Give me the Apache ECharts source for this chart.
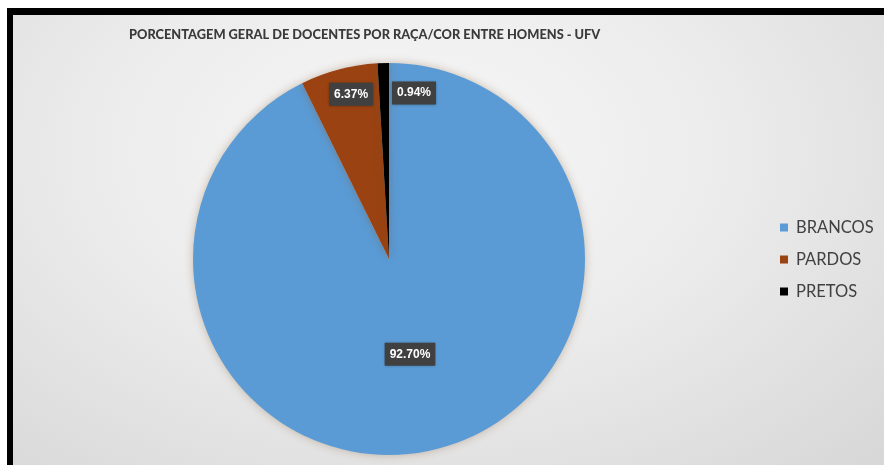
<!DOCTYPE html>
<html>
<head>
<meta charset="utf-8">
<script src="https://cdn.jsdelivr.net/npm/echarts@6/dist/echarts.min.js"></script>
<style>
  html, body { margin: 0; padding: 0; background: #ffffff; }
  #frame {
    position: absolute; left: 7px; top: 8px; width: 884px; height: 454px;
    border-top: 7px solid #000; border-left: 6px solid #000;
    border-bottom: 1px solid #8a8a8a;
    background: radial-gradient(ellipse at 45% 30%, #f7f7f7 0%, #ececec 45%, #d6d6d6 100%);
  }
  #chart { position: absolute; left: 0; top: 0; width: 884px; height: 465px; }
</style>
</head>
<body>
<div id="frame"></div>
<div id="chart"></div>
<script>
const titleText = 'PORCENTAGEM GERAL DE DOCENTES POR RAÇA/COR ENTRE HOMENS - UFV';
const categories = ['BRANCOS', 'PARDOS', 'PRETOS'];
const values = [92.70, 6.37, 0.94];
const colors = ['#5B9BD5', '#9A4212', '#000000'];
const labelOffsets = [[-2, -3], [-12, -67], [28, -65]];

const chart = echarts.init(document.getElementById('chart'), null, { renderer: 'canvas' });
chart.setOption({
  backgroundColor: 'transparent',
  animation: false,
  title: {
    text: titleText,
    left: 124, top: 23,
    textStyle: { fontFamily: 'Lato', fontSize: 12.8, fontWeight: 900, color: '#3a3a3a' }
  },
  legend: {
    orient: 'vertical',
    left: 775, top: 214,
    icon: 'rect', itemWidth: 8, itemHeight: 8, itemGap: 15,
    data: categories,
    textStyle: { fontFamily: 'Lato', fontSize: 16.5, color: '#404040', padding: [0, 0, 0, 3] }
  },
  series: [{
    type: 'pie',
    center: [389, 259],
    radius: 196,
    startAngle: 90,
    clockwise: true,
    silent: true,
    itemStyle: { shadowBlur: 8, shadowColor: 'rgba(120,80,40,0.35)' },
    label: {
      show: true,
      position: 'inside',
      formatter: p => p.value.toFixed(2) + '%',
      color: '#ffffff',
      fontFamily: 'Liberation Sans, Arial',
      fontWeight: 'bold',
      fontSize: 12,
      backgroundColor: '#404040',
      padding: [6, 5, 5, 5],
      shadowBlur: 3, shadowColor: 'rgba(0,0,0,0.4)'
    },
    labelLine: { show: false },
    data: categories.map((c, i) => ({
      name: c,
      value: values[i],
      itemStyle: { color: colors[i] },
      label: { offset: labelOffsets[i] }
    }))
  }]
});
</script>
</body>
</html>
